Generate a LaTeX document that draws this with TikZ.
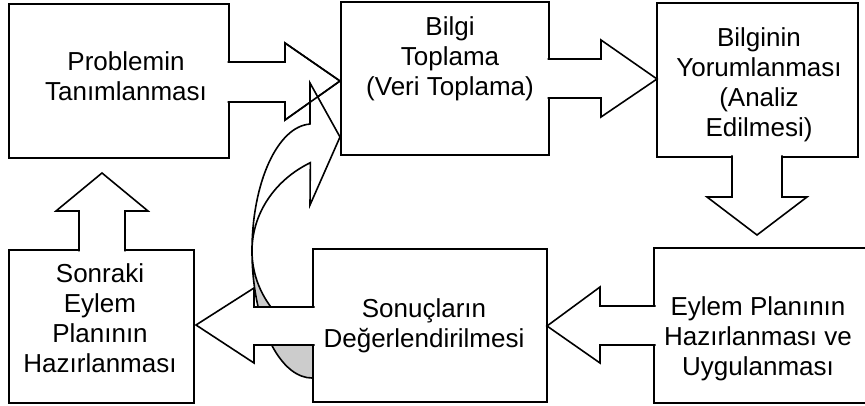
\documentclass[tikz,border=0pt]{standalone}
\usepackage{fontspec}
\setmainfont{Liberation Sans}
\newcommand{\lbfont}{\fontsize{26}{30}\selectfont}
\newcommand{\lines}[1]{\begin{tabular}[t]{@{}c@{}}#1\end{tabular}}
\begin{document}
\begin{tikzpicture}[x=1pt,y=-1pt,
  box/.style={draw, fill=white, line width=1.6pt, inner sep=0pt},
  blockarrow/.style={draw, fill=white, line width=1.6pt, line join=miter},
  arrowline/.style={draw, line width=1.6pt, line join=miter},
  curvewhite/.style={draw, fill=white, line width=1.6pt, line join=miter},
  curvegray/.style={draw, fill={rgb,255:red,204;green,204;blue,204}, line width=1.6pt},
  lbl/.style={anchor=base, inner sep=0pt, font=\lbfont}]
\useasboundingbox (0,0) rectangle (865,406);
\clip (0,0) rectangle (865,406);

% boxes (except the one drawn over the curved arrow)
\node[box, minimum width=220pt, minimum height=154pt] (b1) at (119,81) {};
\node[box, minimum width=208pt, minimum height=153pt] (b2) at (445,78.5) {};
\node[box, minimum width=201pt, minimum height=154pt] (b3) at (757.5,80) {};
\node[box, minimum width=216pt, minimum height=155pt] (b4) at (762,325.5) {};
\node[box, minimum width=185pt, minimum height=153pt] (b6) at (101.5,326.5) {};

% block arrows
\path[blockarrow] (227.5,62) -- (285,62) -- (285,43) -- (340,81) -- (285,120) -- (285,102) -- (227.5,102);
\path[blockarrow] (547.5,59) -- (601,59) -- (601,40) -- (657,79) -- (601,117) -- (601,98) -- (547.5,98);
\path[blockarrow] (732,155.5) -- (732,197) -- (707,197) -- (757,235) -- (807,197) -- (782,197) -- (782,155.5);
\path[blockarrow] (79,251.5) -- (79,211) -- (56,211) -- (102,173) -- (148,211) -- (125,211) -- (125,251.5);

% curved arrow
\path[curvegray] (252,251) arc[start angle=180, end angle=80, x radius=60, y radius=127]
  -- (342.9,349.5) arc[start angle=100, end angle=180, x radius=110, y radius=100] -- cycle;
\path[curvewhite] (310,124) -- (310,83) -- (340,137) -- (310,205) -- (310.35,162.7)
  arc[start angle=242, end angle=180, x radius=110, y radius=100]
  arc[start angle=180, end angle=268, x radius=60, y radius=127] -- cycle;

% outline of the first arrow seen through the curved head
\path[arrowline] (285,62) -- (285,43) -- (340,81) -- (285,120) -- (285,102);

% box over the curved arrow and its arrows
\node[box, minimum width=234pt, minimum height=153pt] (b5) at (430,325.5) {};
\path[blockarrow] (655.5,306) -- (600,306) -- (600,287) -- (547,326) -- (600,363) -- (600,345) -- (655.5,345);
\path[blockarrow] (314.5,307) -- (254,307) -- (254,288) -- (196,325) -- (254,363) -- (254,345) -- (314.5,345);

% texts
\node[lbl] (t1) at (126,71) {\lines{Problemin\\Tanımlanması}};
\node[lbl] (t2) at (450,36) {\lines{Bilgi\\Toplama\\(Veri Toplama)}};
\node[lbl] (t3) at (759,47) {\lines{Bilginin\\Yorumlanması\\(Analiz\\Edilmesi)}};
\node[lbl] (t4) at (758,315) {\lines{Eylem Planının\\Hazırlanması ve\\Uygulanması}};
\node[lbl] (t5) at (424,317) {\lines{Sonuçların\\Değerlendirilmesi}};
\node[lbl] (t6) at (100,282) {\lines{Sonraki\\Eylem\\Planının\\Hazırlanması}};
\end{tikzpicture}
\end{document}
